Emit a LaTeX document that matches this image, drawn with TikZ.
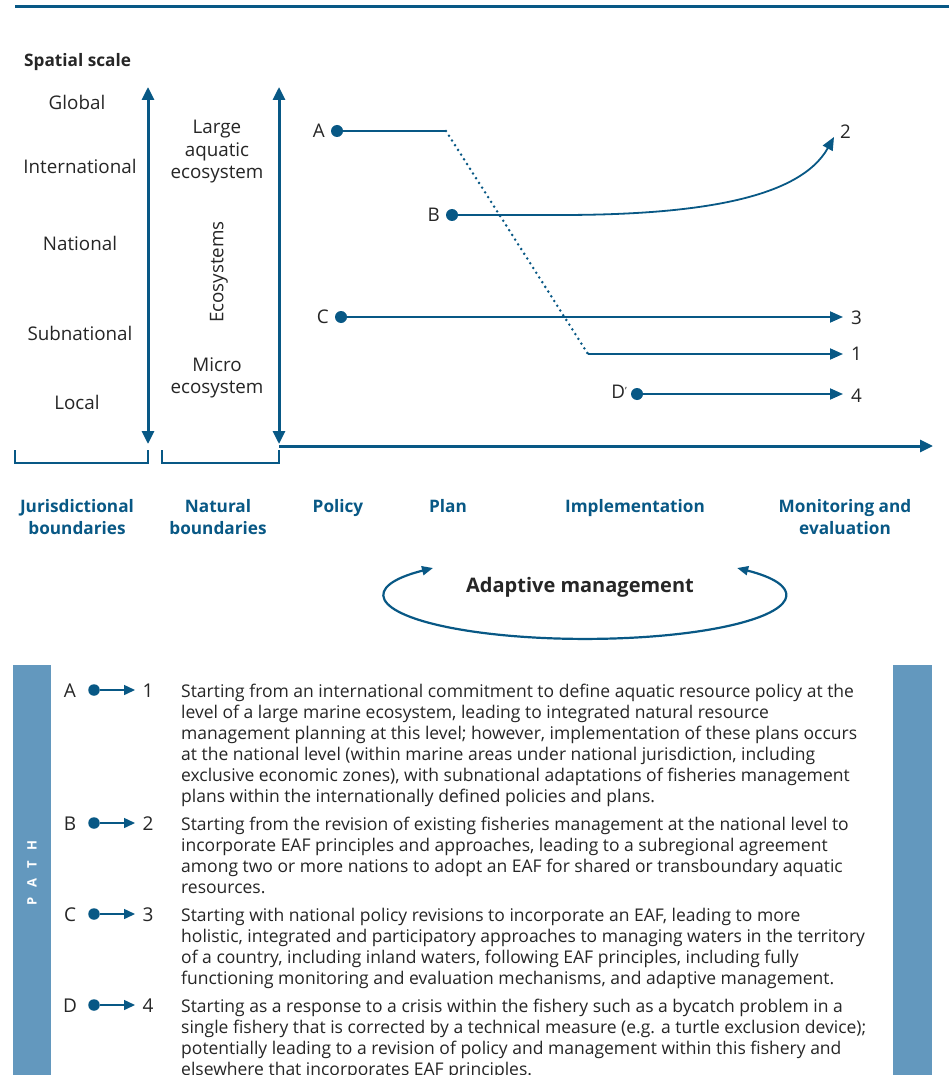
\documentclass[tikz,border=0pt]{standalone}
\usepackage{fontspec}
\setmainfont{Open Sans}
\usetikzlibrary{arrows.meta}
\definecolor{fblue}{RGB}{8,88,133}
\definecolor{barblue}{RGB}{99,152,190}
\definecolor{txt}{RGB}{38,38,38}
\begin{document}
\begin{tikzpicture}[x=1pt,y=-1pt,
  lab/.style={text=txt,font=\fontsize{18.8}{22.5}\selectfont,align=center,inner sep=0pt},
  blab/.style={text=fblue,font=\bfseries\fontsize{17.2}{22}\selectfont,align=center,inner sep=0pt},
  pt/.style={circle,fill=fblue,inner sep=0pt,minimum size=12pt},
  spt/.style={circle,fill=fblue,inner sep=0pt,minimum size=11.5pt},
  axis/.style={fblue,line width=3pt},
  pathline/.style={fblue,line width=1.8pt},
  tip/.style={-{Triangle[length=13pt,width=11pt]}},
  stip/.style={-{Triangle[length=11pt,width=10pt]}},
  dots/.style={fblue,line width=2.8pt,line cap=round,dash pattern=on 0pt off 5.6pt},
  body/.style={text=txt,font=\fontsize{17.5}{21}\selectfont,align=left,anchor=north west,inner sep=0pt},
  key/.style={text=txt,font=\fontsize{19}{22}\selectfont,anchor=base,inner sep=0pt}
]
\useasboundingbox (0,0) rectangle (949,1075);
\fill[white] (0,0) rectangle (949,1075);
% top rule
\draw[fblue,line width=3pt] (15,7) -- (949,7);

% left scale labels
\node[text=txt,font=\bfseries\fontsize{17.2}{20}\selectfont,anchor=west,inner sep=0pt] (ss) at (24,62) {Spatial scale};
\node[lab] (glob) at (77,102) {Global};
\node[lab] (intl) at (80,166) {International};
\node[lab] (natl) at (80,243) {National};
\node[lab] (subn) at (80,333) {Subnational};
\node[lab] (locl) at (77,402) {Local};

% vertical axes
\coordinate (v1t) at (148,87);
\coordinate (v1b) at (148,444);
\coordinate (v2t) at (279,87);
\coordinate (v2b) at (279,444);
\coordinate (hx) at (933,446);
\draw[axis,{Triangle[length=13pt,width=12pt]}-{Triangle[length=13pt,width=12pt]}] (v1t) -- (v1b);
\draw[axis,{Triangle[length=13pt,width=12pt]}-{Triangle[length=13pt,width=12pt]}] (v2t) -- (v2b);
\draw[axis,-{Triangle[length=13pt,width=12pt]}] (279,446) -- (hx);

% ecosystems labels
\node[lab] (lae) at (217,152) {Large\\aquatic\\ecosystem};
\node[lab,rotate=90] (eco) at (219,272) {Ecosystems};
\node[lab] (mic) at (217,378) {Micro\\ecosystem};

% brackets
\draw[fblue,line width=2.5pt] (15,450) -- (15,463) -- (148,463) -- (148,450);
\draw[fblue,line width=2.5pt] (162,450) -- (162,463) -- (279,463) -- (279,450);

% stage labels
\node[blab] (jur) at (77,517) {Jurisdictional\\boundaries};
\node[blab] (nat) at (218,517) {Natural\\boundaries};
\node[blab,anchor=base] (pol) at (338,512) {Policy};
\node[blab,anchor=base] (pla) at (448,512) {Plan};
\node[blab,anchor=base] (imp) at (635,512) {Implementation};
\node[blab] (mon) at (845,517) {Monitoring and\\evaluation};

% paths
\node[pt] (A) at (337,131) {};
\node[lab,anchor=east] (Al) at (325,131) {A};
\coordinate (a1) at (446,131);
\coordinate (a2) at (588,354);
\coordinate (e1) at (843,354);
\node[lab,anchor=west] (n1) at (851,354) {1};
\draw[pathline] (A) -- (a1);
\draw[dots] (a1) -- (a2);
\draw[pathline,tip] (a2) -- (e1);

\node[pt] (B) at (452,215) {};
\node[lab,anchor=east] (Bl) at (440,215) {B};
\coordinate (e2) at (834,137);
\node[lab,anchor=west] (n2) at (840,132) {2};
\draw[pathline,tip] (B) -- (560,215) .. controls (700,215) and (800,198) .. (e2);

\node[pt] (C) at (341,317) {};
\node[lab,anchor=east] (Cl) at (329,317) {C};
\coordinate (e3) at (843,317);
\node[lab,anchor=west] (n3) at (851,318) {3};
\draw[pathline,tip] (C) -- (e3);

\node[pt] (D) at (637,394) {};
\node[lab,anchor=east] (Dl) at (627,392) {D\raisebox{0.45ex}{\fontsize{10}{10}\selectfont'}};
\coordinate (e4) at (843,394);
\node[lab,anchor=west] (n4) at (851,396) {4};
\draw[pathline,tip] (D) -- (e4);

% adaptive management
\node[text=txt,font=\bfseries\fontsize{20}{24}\selectfont,inner sep=0pt] (am) at (580,587) {Adaptive management};
\draw[fblue,line width=2.2pt,{Triangle[length=11pt,width=9pt]}-{Triangle[length=11pt,width=9pt]}]
  (433,568) arc[start angle=220.5,end angle=-40.5,x radius=200,y radius=43];

% table side bars
\fill[barblue] (13,665) rectangle (51,1075);
\fill[barblue] (893,665) rectangle (932,1075);
\node[rotate=90,text=white,font=\bfseries\fontsize{13}{14}\selectfont,inner sep=0pt] (pth) at (32,873) {P\hspace{10pt}A\hspace{10pt}T\hspace{10pt}H};

% key rows
\foreach \r/\s/\e/\y in {A/1/ka/697, B/2/kb/830, C/3/kc/921, D/4/kd/1012}{
  \node[key] (\e l) at (70,\y) {\r};
  \node[spt] (\e d) at (94,\y-7) {};
  \coordinate (\e t) at (135,\y-7);
  \draw[fblue,line width=1.5pt,stip] (\e d) -- (\e t);
  \node[key] (\e n) at (148,\y) {\s};
}

\node[body] (ta) at (181,684) {Starting from an international commitment to define aquatic resource policy at the\\
level of a large marine ecosystem, leading to integrated natural resource\\
management planning at this level; however, implementation of these plans occurs\\
at the national level (within marine areas under national jurisdiction, including\\
exclusive economic zones), with subnational adaptations of fisheries management\\
plans within the internationally defined policies and plans.};
\node[body] (tb) at (181,817) {Starting from the revision of existing fisheries management at the national level to\\
incorporate EAF principles and approaches, leading to a subregional agreement\\
among two or more nations to adopt an EAF for shared or transboundary aquatic\\
resources.};
\node[body] (tc) at (181,908) {Starting with national policy revisions to incorporate an EAF, leading to more\\
holistic, integrated and participatory approaches to managing waters in the territory\\
of a country, including inland waters, following EAF principles, including fully\\
functioning monitoring and evaluation mechanisms, and adaptive management.};
\node[body] (td) at (181,999) {Starting as a response to a crisis within the fishery such as a bycatch problem in a\\
single fishery that is corrected by a technical measure (e.g. a turtle exclusion device);\\
potentially leading to a revision of policy and management within this fishery and\\
elsewhere that incorporates EAF principles.};
\end{tikzpicture}
\end{document}
